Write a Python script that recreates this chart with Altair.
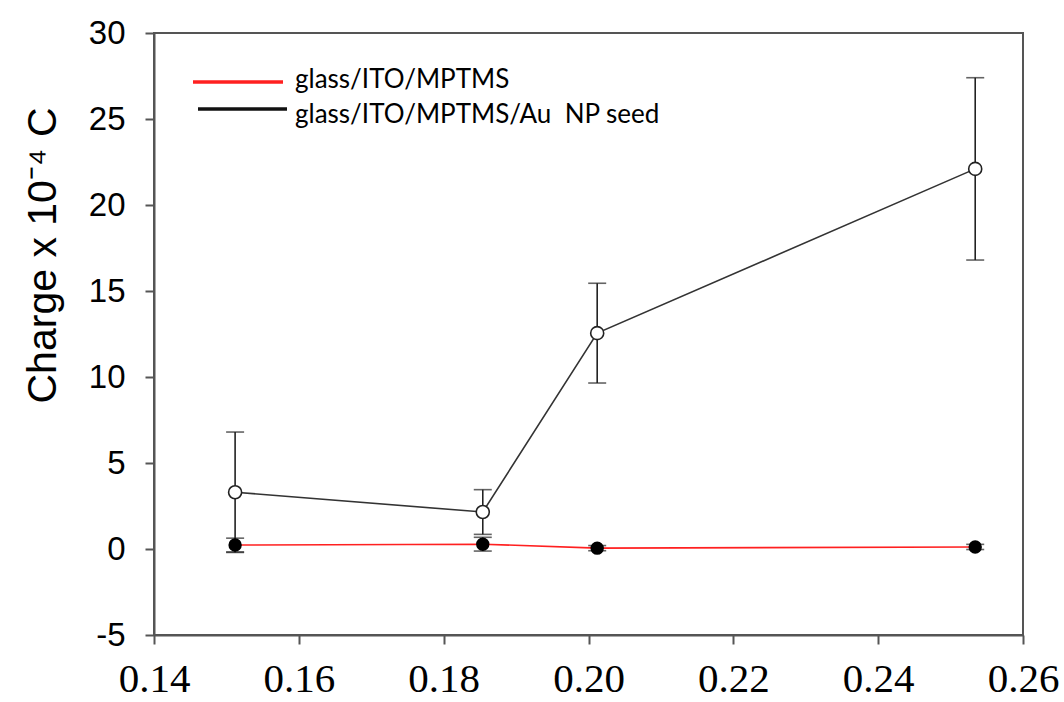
import altair as alt
import pandas as pd

# Data
x_vals = [0.1512, 0.1854, 0.2012, 0.2534]
seed_vals = [3.3, 2.15, 12.55, 22.1]
seed_err = [3.5, 1.3, 2.9, 5.3]
mptms_vals = [0.23, 0.28, 0.05, 0.12]
mptms_err = [0.4, 0.4, 0.15, 0.15]

series_names = ["glass/ITO/MPTMS", "glass/ITO/MPTMS/Au\u00a0 NP seed"]
series_colors = ["#ff2020", "#111111"]
x_ticks = [0.14, 0.16, 0.18, 0.20, 0.22, 0.24, 0.26]
y_ticks = [-5, 0, 5, 10, 15, 20, 25, 30]

seed = pd.DataFrame({"x": x_vals, "y": seed_vals,
                     "lo": [v - e for v, e in zip(seed_vals, seed_err)],
                     "hi": [v + e for v, e in zip(seed_vals, seed_err)]})
mptms = pd.DataFrame({"x": x_vals, "y": mptms_vals,
                      "lo": [v - e for v, e in zip(mptms_vals, mptms_err)],
                      "hi": [v + e for v, e in zip(mptms_vals, mptms_err)]})

FONT = "Liberation Sans"

xs = alt.Scale(domain=[0.14, 0.26], nice=False, zero=False)
ys = alt.Scale(domain=[-5, 30], nice=False, zero=False)

x_axis = alt.Axis(values=x_ticks, format=".2f", title="", grid=False,
                  labelFontSize=41, labelFont="Liberation Sans Narrow", labelColor="black",
                  tickSize=9, tickWidth=2, tickColor="#555", domainColor="#555",
                  domainWidth=2, labelPadding=15, labelFlush=False)
y_axis = alt.Axis(values=y_ticks, labelExpr="'' + datum.value",
                  title="Charge x 10\u207b\u2074 C", grid=False,
                  labelFontSize=33, labelFont=FONT, labelColor="black",
                  tickSize=9, tickWidth=2, tickColor="#555", domainColor="#555",
                  domainWidth=2, labelPadding=20,
                  titleFontSize=41, titleFont=FONT, titleFontWeight="normal",
                  titleColor="black", titleX=-111, titleY=222, titleAngle=270,
                  titleAlign="center", titleBaseline="middle")

X = alt.X("x:Q", scale=xs, axis=x_axis)
Y = alt.Y("y:Q", scale=ys, axis=y_axis)

red_line = alt.Chart(mptms).mark_line(color=series_colors[0], strokeWidth=1.6).encode(x=X, y=Y)
seed_line = alt.Chart(seed).mark_line(color="#333333", strokeWidth=1.6).encode(x=X, y=Y)


def errbars(df):
    base = alt.Chart(df)
    rule = base.mark_rule(color="#222", strokeWidth=1.6).encode(
        x=alt.X("x:Q", scale=xs), y=alt.Y("lo:Q", scale=ys), y2="hi:Q")
    cap_hi = base.mark_tick(orient="horizontal", size=18, thickness=1.6, color="#222").encode(
        x=alt.X("x:Q", scale=xs), y=alt.Y("hi:Q", scale=ys))
    cap_lo = base.mark_tick(orient="horizontal", size=18, thickness=1.6, color="#222").encode(
        x=alt.X("x:Q", scale=xs), y=alt.Y("lo:Q", scale=ys))
    return rule + cap_hi + cap_lo


seed_pts = alt.Chart(seed).mark_point(shape="circle", filled=True, fill="white",
                                      stroke="#222", strokeWidth=1.6, size=170,
                                      opacity=1).encode(x=X, y=Y)
mptms_pts = alt.Chart(mptms).mark_point(shape="circle", filled=True, fill="black",
                                        stroke="black", size=130, opacity=1).encode(x=X, y=Y)

# Legend (drawn manually to match the reference)
leg = pd.DataFrame({"name": series_names, "color": series_colors})
leg_red = alt.Chart(leg.iloc[[0]]).mark_rule(strokeWidth=3.5).encode(
    x=alt.value(39), x2=alt.value(129), y=alt.value(49),
    color=alt.Color("color:N", scale=None))
leg_black = alt.Chart(leg.iloc[[1]]).mark_rule(strokeWidth=3.5).encode(
    x=alt.value(44), x2=alt.value(133), y=alt.value(76),
    color=alt.Color("color:N", scale=None))
leg_t1 = alt.Chart(leg.iloc[[0]]).mark_text(align="left", baseline="alphabetic",
                                            font="Lato", fontSize=26, color="black").encode(
    x=alt.value(141), y=alt.value(55), text="name:N")
leg_t2 = alt.Chart(leg.iloc[[1]]).mark_text(align="left", baseline="alphabetic",
                                            font="Lato", fontSize=26, color="black").encode(
    x=alt.value(141), y=alt.value(90), text="name:N")

chart = alt.layer(
    red_line, errbars(mptms), errbars(seed), seed_line, mptms_pts, seed_pts,
    leg_red, leg_black, leg_t1, leg_t2
).properties(
    width=869, height=602,
    autosize=alt.AutoSizeParams(type="none"),
    padding={"left": 154, "top": 33, "right": 41, "bottom": 67},
    background="white"
).configure_view(stroke="#555", strokeWidth=2)

chart.save("out.html", embed_options={"renderer": "svg", "actions": False})
